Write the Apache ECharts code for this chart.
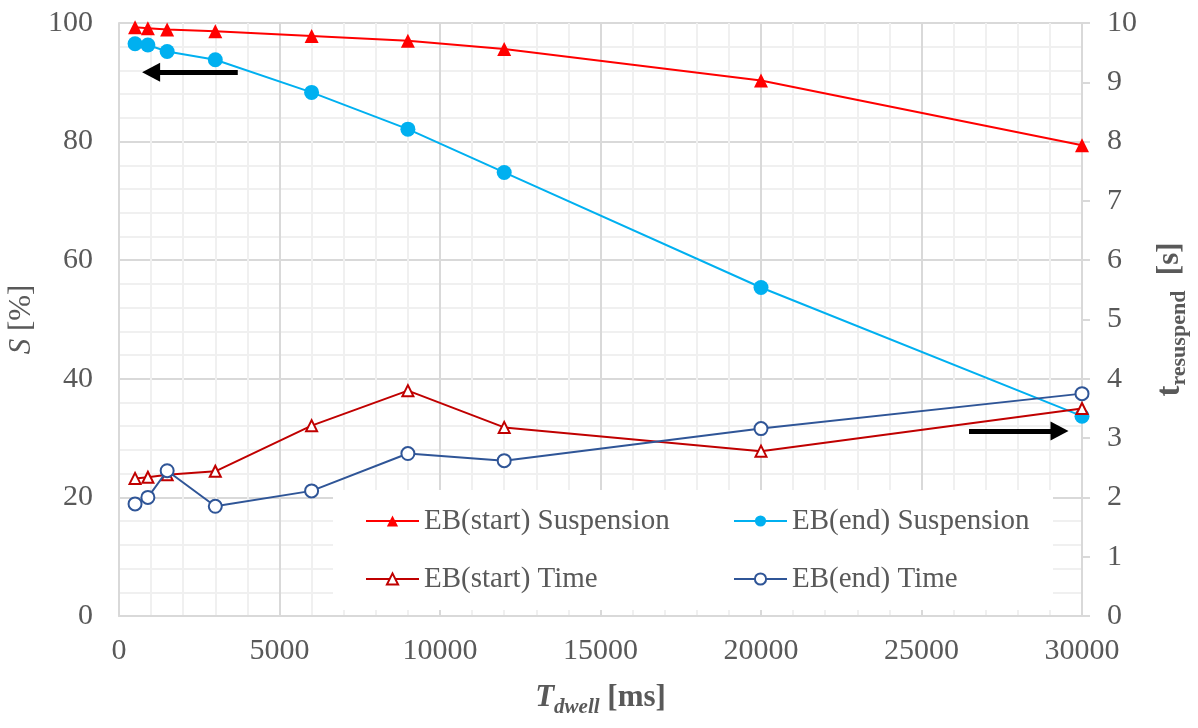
<!DOCTYPE html>
<html>
<head>
<meta charset="utf-8">
<script src="https://cdn.jsdelivr.net/npm/echarts@6/dist/echarts.min.js"></script>
<style>
  html, body { margin: 0; padding: 0; background: #fff; }
  #chart { width: 1198px; height: 728px; }
</style>
</head>
<body>
<div id="chart"></div>
<script>
// Dwell time (ms) for each measurement
const dwellMs = [500, 900, 1500, 3000, 6000, 9000, 12000, 20000, 30000];
// Suspension ratio S [%] (left axis)
const startSuspension = [99.3, 99.1, 98.9, 98.6, 97.8, 97.0, 95.6, 90.3, 79.4];
const endSuspension = [96.5, 96.3, 95.2, 93.8, 88.3, 82.1, 74.8, 55.4, 33.7];
// Resuspension time t [s] (right axis)
const startTime = [2.32, 2.34, 2.38, 2.44, 3.21, 3.80, 3.18, 2.78, 3.50];
const endTime = [1.89, 2.00, 2.45, 1.85, 2.11, 2.74, 2.62, 3.16, 3.75];

// Axis ranges
const xRange = [0, 30000, 5000];
const leftRange = [0, 100, 20];
const rightRange = [0, 10, 1];

// Arrows pointing at the axis each group belongs to: [tail, head] in (ms, %)
const arrowToLeft = [[3700, 91.7], [1000, 91.7]];
const arrowToRight = [[26480, 31.2], [29300, 31.2]];

const FONT = 'Liberation Serif';
const TXT = '#595959';

function pairs(xs, ys) { return xs.map((x, i) => [x, ys[i]]); }

const chart = echarts.init(document.getElementById('chart'));

const arrowLine = (pts) => [
  { coord: pts[0], symbol: 'none' },
  { coord: pts[1], symbol: 'triangle', symbolSize: [19, 18] }
];

chart.setOption({
  animation: false,
  backgroundColor: '#fff',
  textStyle: { fontFamily: FONT },
  grid: { left: 119, top: 23, right: 116, bottom: 112, containLabel: false, outerBoundsMode: 'none' },
  xAxis: {
    type: 'value',
    min: xRange[0], max: xRange[1], interval: xRange[2],
    name: '{ti|T}{sub|dwell}{b| [ms]}',
    nameLocation: 'middle',
    nameGap: 66,
    nameTextStyle: {
      color: TXT,
      rich: {
        ti: { fontFamily: FONT, fontSize: 31, fontWeight: 'bold', fontStyle: 'italic', color: TXT, verticalAlign: 'top', lineHeight: 32 },
        sub: { fontFamily: FONT, fontSize: 21, fontWeight: 'bold', fontStyle: 'italic', color: TXT, verticalAlign: 'top', padding: [15, 0, 0, 0], lineHeight: 22 },
        b: { fontFamily: FONT, fontSize: 31, fontWeight: 'bold', color: TXT, verticalAlign: 'top', lineHeight: 32 }
      }
    },
    axisLine: { show: true, lineStyle: { color: '#D9D9D9', width: 2 } },
    axisTick: { show: false },
    minorTick: { show: false, splitNumber: 5 },
    axisLabel: { color: TXT, fontFamily: FONT, fontSize: 30, margin: 20, formatter: (v) => String(v) },
    splitLine: { show: true, lineStyle: { color: '#D9D9D9', width: 2 } },
    minorSplitLine: { show: true, lineStyle: { color: '#F0F0F0', width: 2 } }
  },
  yAxis: [
    {
      type: 'value',
      position: 'left',
      min: leftRange[0], max: leftRange[1], interval: leftRange[2],
      name: '{i|S}{n| [%]}',
      nameLocation: 'middle',
      nameRotate: 90,
      nameGap: 74,
      nameTextStyle: {
        color: TXT,
        rich: {
          i: { fontFamily: FONT, fontSize: 31, fontStyle: 'italic', color: TXT },
          n: { fontFamily: FONT, fontSize: 31, color: TXT }
        }
      },
      axisLine: { show: true, lineStyle: { color: '#D9D9D9', width: 2 } },
      axisTick: { show: false },
      minorTick: { show: false, splitNumber: 5 },
      axisLabel: { color: TXT, fontFamily: FONT, fontSize: 30, margin: 26 },
      splitLine: { show: true, lineStyle: { color: '#D9D9D9', width: 2 } },
      minorSplitLine: { show: true, lineStyle: { color: '#F0F0F0', width: 2 } }
    },
    {
      type: 'value',
      position: 'right',
      min: rightRange[0], max: rightRange[1], interval: rightRange[2],
      name: '{t|t}{sub|resuspend}{b|  [s]}',
      nameLocation: 'middle',
      nameRotate: 90,
      nameGap: 72,
      nameTextStyle: {
        color: TXT,
        rich: {
          t: { fontFamily: FONT, fontSize: 33, fontWeight: 'bold', color: TXT, verticalAlign: 'top', lineHeight: 34 },
          sub: { fontFamily: FONT, fontSize: 22, fontWeight: 'bold', color: TXT, verticalAlign: 'top', padding: [14, 0, 0, 0], lineHeight: 23 },
          b: { fontFamily: FONT, fontSize: 31, fontWeight: 'bold', color: TXT, verticalAlign: 'top', lineHeight: 34 }
        }
      },
      axisLine: { show: true, lineStyle: { color: '#D9D9D9', width: 2 } },
      axisTick: { show: true, inside: false, length: 8, lineStyle: { color: '#D9D9D9', width: 2 } },
      axisLabel: { color: TXT, fontFamily: FONT, fontSize: 30, margin: 25 },
      splitLine: { show: false }
    }
  ],
  legend: [
    {
      orient: 'vertical',
      left: 365, top: 506,
      padding: 0,
      itemWidth: 53, itemHeight: 14,
      itemGap: 28,
      textStyle: { color: TXT, fontFamily: FONT, fontSize: 29, lineHeight: 30 },
      data: ['EB(start) Suspension', 'EB(start) Time']
    },
    {
      orient: 'vertical',
      left: 733, top: 506,
      padding: 0,
      itemWidth: 53, itemHeight: 14,
      itemGap: 28,
      textStyle: { color: TXT, fontFamily: FONT, fontSize: 29, lineHeight: 30 },
      data: ['EB(end) Suspension', 'EB(end) Time']
    }
  ],
  graphic: [
    {
      type: 'rect',
      z: 1,
      shape: { x: 333, y: 490, width: 720, height: 120 },
      style: { fill: '#fff' },
      silent: true
    }
  ],
  series: [
    {
      name: 'EB(start) Suspension',
      type: 'line',
      yAxisIndex: 0,
      data: pairs(dwellMs, startSuspension),
      symbol: 'triangle', symbolSize: 14,
      lineStyle: { color: '#FF0000', width: 2 },
      itemStyle: { color: '#FF0000' },
      z: 3,
      markLine: {
        silent: true,
        animation: false,
        label: { show: false },
        lineStyle: { color: '#000', width: 5, type: 'solid' },
        emphasis: { disabled: true },
        data: [arrowLine(arrowToLeft), arrowLine(arrowToRight)]
      }
    },
    {
      name: 'EB(end) Suspension',
      type: 'line',
      yAxisIndex: 0,
      data: pairs(dwellMs, endSuspension),
      symbol: 'circle', symbolSize: 15,
      lineStyle: { color: '#00B0F0', width: 2 },
      itemStyle: { color: '#00B0F0' },
      z: 4
    },
    {
      name: 'EB(start) Time',
      type: 'line',
      yAxisIndex: 1,
      data: pairs(dwellMs, startTime),
      symbol: 'emptyTriangle', symbolSize: 11,
      lineStyle: { color: '#C00000', width: 2 },
      itemStyle: { color: '#C00000', borderColor: '#C00000', borderWidth: 3 },
      z: 5
    },
    {
      name: 'EB(end) Time',
      type: 'line',
      yAxisIndex: 1,
      data: pairs(dwellMs, endTime),
      symbol: 'emptyCircle', symbolSize: 13,
      lineStyle: { color: '#2F5597', width: 2 },
      itemStyle: { color: '#2F5597', borderColor: '#2F5597', borderWidth: 3 },
      z: 6
    }
  ]
});
</script>
</body>
</html>
